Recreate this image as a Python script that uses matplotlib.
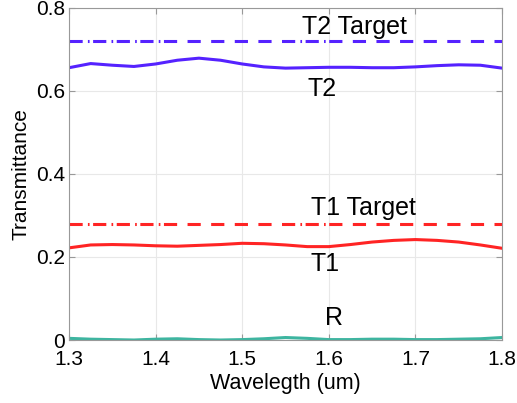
import numpy as np
import matplotlib
matplotlib.use('Agg')
from matplotlib import pyplot as plt
import matplotlib.transforms as mtransforms

plt.rcParams['font.family'] = ['Liberation Sans', 'DejaVu Sans']
plt.rcParams['lines.scale_dashes'] = False

# Спектр: длина волны (мкм) и измеренные коэффициенты
wavelength = np.linspace(1.3, 1.8, 21)
T2 = [0.656, 0.666, 0.662, 0.659, 0.665, 0.674, 0.679, 0.674, 0.665, 0.658, 0.655,
      0.656, 0.657, 0.657, 0.656, 0.656, 0.658, 0.661, 0.663, 0.662, 0.655]
T1 = [0.222, 0.229, 0.230, 0.229, 0.227, 0.226, 0.228, 0.230, 0.233, 0.232, 0.229,
      0.225, 0.225, 0.230, 0.236, 0.240, 0.242, 0.240, 0.236, 0.229, 0.221]
R = [0.004, 0.002, 0.001, 0.000, 0.002, 0.003, 0.001, 0.000, 0.001, 0.003, 0.006,
     0.004, 0.001, 0.001, 0.002, 0.002, 0.001, 0.001, 0.002, 0.003, 0.006]
T2_target = 0.72
T1_target = 0.28

blue = '#5522ff'
red = '#ff2424'
teal = '#3db5a0'

fig = plt.figure(figsize=(5.17, 4.03), dpi=100)
ax = fig.add_axes([0.1335, 0.1563, 0.8375, 0.824])

lw = 2.2
on, off = 9.5, 7.5
ax.plot(wavelength, T2, color=blue, lw=lw)
ax.plot(wavelength, T1, color=red, lw=lw)
ax.plot(wavelength, R, color=teal, lw=lw)

# целевые уровни: штрих, на части диапазона штрих-пунктир
trans = mtransforms.blended_transform_factory(ax.transData, ax.transAxes)
for target, c in [(T2_target, blue), (T1_target, red)]:
    tx = [wavelength[0], wavelength[-1]]
    ax.plot(tx, [target] * 2, color=c, lw=lw, linestyle=(0, (on, off)),
            dash_capstyle='butt')
    for x0, x1 in [(1.315, 1.415), (1.545, 1.61)]:
        dots, = ax.plot(tx, [target] * 2, color=c, lw=lw, dash_capstyle='butt',
                        linestyle=(on + off - (on + off / 2), (1.2, on + off - 1.2)))
        rect = plt.Rectangle((x0, 0), x1 - x0, 1, transform=trans, visible=False)
        ax.add_patch(rect)
        dots.set_clip_path(rect)

fs = 18
ax.text(1.630, 0.755, 'T2 Target', fontsize=fs, ha='center', va='center')
ax.text(1.592, 0.604, 'T2', fontsize=fs, ha='center', va='center')
ax.text(1.6395, 0.317, 'T1 Target', fontsize=fs, ha='center', va='center')
ax.text(1.5956, 0.182, 'T1', fontsize=fs, ha='center', va='center')
ax.text(1.606, 0.053, 'R', fontsize=fs, ha='center', va='center')

ax.set_xlim(1.3, 1.8)
ax.set_ylim(0, 0.8)
ax.set_xticks([1.3, 1.4, 1.5, 1.6, 1.7, 1.8])
ax.set_xticklabels(['1.3', '1.4', '1.5', '1.6', '1.7', '1.8'])
ax.set_yticks([0, 0.2, 0.4, 0.6, 0.8])
ax.set_yticklabels(['0', '0.2', '0.4', '0.6', '0.8'])
ax.grid(True, color='#e8e8e8', lw=0.8)
ax.set_axisbelow(True)
ax.tick_params(direction='in', top=True, right=True, length=4, color='#999999',
               labelsize=15)
ax.tick_params(axis='x', pad=7)
ax.tick_params(axis='y', pad=3)
for s in ax.spines.values():
    s.set_color('#999999')
    s.set_linewidth(0.8)
ax.set_xlabel('Wavelegth (um)', fontsize=15.5, labelpad=3)
ax.set_ylabel('Transmittance', fontsize=15, labelpad=4)

fig.savefig('out.png', dpi=100)
